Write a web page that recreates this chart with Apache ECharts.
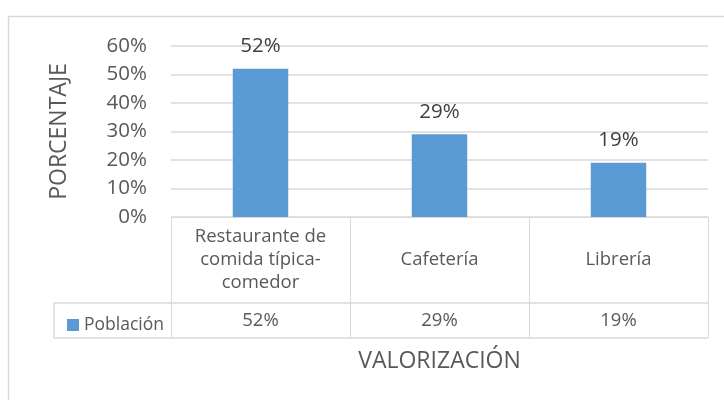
<!DOCTYPE html>
<html>
<head>
<meta charset="utf-8">
<script src="https://cdn.jsdelivr.net/npm/echarts@6/dist/echarts.min.js"></script>
<style>
  html, body { margin: 0; padding: 0; background: #fff; }
  #chart { width: 724px; height: 400px; }
</style>
</head>
<body>
<div id="chart"></div>
<script>
// Valorización por tipo de establecimiento
const categories = ['Restaurante de\ncomida típica-\ncomedor', 'Cafetería', 'Librería'];
const seriesName = 'Población';
const values = [52, 29, 19];
const yTicks = { min: 0, max: 60, interval: 10 };

const FONT = '"Open Sans", sans-serif';
const TEXT = '#595959';
const LINE = '#D9D9D9';
const BAR = '#5B9BD5';

// plot area and data-table geometry
const G = { left: 171, right: 16, top: 46, bottom: 183 };
const W = 724, H = 400;
const tableLeft = 54;
const rowSplit = 86;   // height of the category row below the axis
const rowValue = 35;   // height of the "Población" row

const chart = echarts.init(document.getElementById('chart'), null, { renderer: 'canvas' });

const axisY = H - G.bottom;
const right = W - G.right;

chart.setOption({
  animation: false,
  textStyle: { fontFamily: FONT },
  grid: G,
  legend: {
    data: [seriesName],
    left: tableLeft + 8,
    top: axisY + rowSplit + 8,
    itemWidth: 12, itemHeight: 12, itemGap: 5,
    icon: 'rect',
    textStyle: { fontFamily: FONT, fontSize: 17.5, color: TEXT, padding: [0, 0, 0, 0] }
  },
  xAxis: [{
    type: 'category',
    data: categories,
    name: 'VALORIZACIÓN',
    nameLocation: 'middle',
    nameGap: 133,
    nameTextStyle: { fontFamily: FONT, fontSize: 23, color: TEXT },
    axisLine: { lineStyle: { color: LINE, width: 1 } },
    axisTick: { show: true, length: rowSplit + rowValue, lineStyle: { color: LINE, width: 1 } },
    axisLabel: {
      margin: 43, color: TEXT, fontFamily: FONT, fontSize: 18.5,
      lineHeight: 23, verticalAlign: 'middle', align: 'center', interval: 0
    }
  }, {
    type: 'category',
    position: 'bottom',
    data: values.map(v => v + '%'),
    axisLine: { show: false },
    axisTick: { show: false },
    axisLabel: {
      margin: rowSplit + rowValue / 2, color: TEXT, fontFamily: FONT, fontSize: 18.5,
      verticalAlign: 'middle', align: 'center', interval: 0
    }
  }],
  yAxis: {
    type: 'value',
    min: yTicks.min, max: yTicks.max, interval: yTicks.interval,
    name: 'PORCENTAJE',
    nameLocation: 'middle',
    nameGap: 100,
    nameTextStyle: { fontFamily: FONT, fontSize: 23, color: TEXT },
    axisLine: { show: false },
    axisTick: { show: false },
    axisLabel: { formatter: '{value}%', margin: 24, color: TEXT, fontFamily: FONT, fontSize: 20.5 },
    splitLine: { lineStyle: { color: LINE, width: 1.5 } }
  },
  series: [{
    name: seriesName,
    type: 'bar',
    data: values,
    barWidth: '31%',
    itemStyle: { color: BAR },
    label: {
      show: true, position: 'top', distance: 12,
      formatter: '{c}%', color: '#404040', fontFamily: FONT, fontSize: 20.5
    }
  }],
  graphic: [
    // chart frame
    { type: 'rect', shape: { x: 8.5, y: 16.5, width: 740, height: 420 },
      style: { fill: 'none', stroke: LINE, lineWidth: 1.5 }, silent: true },
    // data-table rules
    { type: 'line', shape: { x1: tableLeft, y1: axisY + rowSplit, x2: right, y2: axisY + rowSplit },
      style: { stroke: LINE, lineWidth: 1.5 } },
    { type: 'line', shape: { x1: tableLeft, y1: axisY + rowSplit + rowValue, x2: right, y2: axisY + rowSplit + rowValue },
      style: { stroke: LINE, lineWidth: 1.5 } },
    { type: 'line', shape: { x1: tableLeft, y1: axisY + rowSplit, x2: tableLeft, y2: axisY + rowSplit + rowValue },
      style: { stroke: LINE, lineWidth: 1.5 } }
  ]
});
</script>
</body>
</html>
